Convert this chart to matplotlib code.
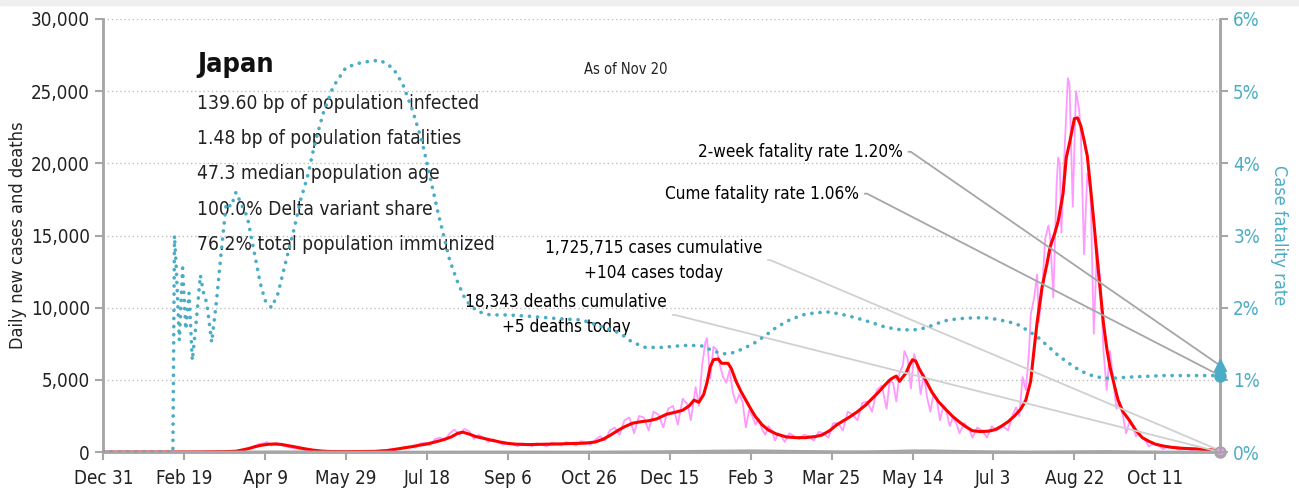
import matplotlib
matplotlib.use("Agg")
import matplotlib.pyplot as plt
from matplotlib import font_manager
from matplotlib.patches import Rectangle
from matplotlib.ticker import FuncFormatter, MultipleLocator

# the original uses a condensed face; take one if the system has it
condensed = [f.name for f in font_manager.fontManager.ttflist
             if "condensed" in str(f.stretch) and f.name in
             ("DejaVu Sans", "Noto Sans", "Roboto", "Open Sans", "Liberation Sans Narrow")]
if condensed:
    plt.rcParams['font.family'] = [condensed[0], 'DejaVu Sans']
    plt.rcParams['font.stretch'] = 'condensed'
else:
    plt.rcParams['font.family'] = ['Liberation Sans', 'DejaVu Sans']

# x axis: days since Dec 31, 2019 (day 690 = Nov 20, 2021)
tick_days = list(range(0, 651, 50))
tick_labels = ["Dec 31", "Feb 19", "Apr 9", "May 29", "Jul 18", "Sep 6", "Oct 26",
               "Dec 15", "Feb 3", "Mar 25", "May 14", "Jul 3", "Aug 22", "Oct 11"]
last_day = 690

# daily new cases (raw)
raw_days = [0, 40, 55, 65, 75, 80, 84, 87, 90, 93, 96, 99, 101, 104, 107, 110, 113, 116, 119, 122,
            125, 128, 131, 135, 140, 145, 150, 155, 160, 165, 170, 174, 178, 181, 184, 187, 190, 193,
            196, 199, 202, 205, 208, 211, 214, 217, 220, 223, 226, 229, 232, 235, 238, 241, 244, 247,
            250, 253, 256, 259, 262, 265, 268, 271, 274, 277, 280, 283, 286, 289, 292, 295, 298, 301,
            304, 307, 310, 313, 316, 319, 322, 325, 328, 331, 334, 337, 340, 343, 346, 349, 352, 355,
            358, 361, 363, 366, 368, 370, 372, 373, 375, 377, 379, 381, 383, 385, 387, 389, 391, 393,
            395, 397, 399, 401, 403, 405, 407, 409, 411, 413, 415, 417, 419, 421, 424, 427, 430, 433,
            436, 439, 442, 445, 448, 451, 454, 457, 460, 463, 466, 469, 472, 475, 478, 481, 484, 486,
            488, 490, 492, 494, 495, 497, 499, 501, 503, 505, 507, 509, 511, 513, 515, 517, 519, 521,
            523, 525, 527, 529, 532, 535, 537, 540, 543, 546, 549, 552, 556, 559, 562, 564, 566, 568,
            570, 572, 573, 575, 577, 578, 580, 582, 584, 585, 587, 589, 590, 591, 592, 594, 596, 597,
            599, 601, 603, 604, 606, 608, 610, 612, 614, 616, 618, 620, 622, 624, 626, 628, 630, 632,
            634, 636, 638, 640, 642, 644, 646, 649, 652, 655, 658, 662, 665, 669, 672, 676, 679, 683,
            686, 690]
raw_cases = [0, 0, 10, 30, 40, 60, 90, 180, 250, 400, 550, 600, 700, 450, 650, 480, 400, 300, 250, 200,
             130, 90, 60, 50, 30, 40, 30, 50, 40, 60, 100, 130, 200, 250, 200, 350, 400, 300,
             600, 650, 500, 900, 1000, 800, 1300, 1550, 1200, 1600, 1450, 900, 1200, 1000, 700, 900, 700, 500,
             650, 550, 400, 600, 550, 400, 600, 500, 400, 650, 600, 450, 700, 600, 450, 750, 700, 500,
             850, 1100, 800, 1500, 1700, 1200, 2200, 2400, 1300, 2500, 2400, 1500, 2800, 2600, 1700, 3000, 3200, 1900,
             3700, 3300, 2200, 4500, 3200, 6000, 7600, 7900, 5100, 7300, 7100, 6000, 5200, 4800, 5700, 4100, 3400, 4000,
             3500, 1700, 2900, 2500, 1900, 2300, 1600, 1200, 1800, 1500, 800, 1300, 1100, 700, 1300, 1100, 900, 1200,
             1100, 800, 1400, 1300, 1000, 2000, 2000, 1500, 2800, 2600, 2200, 3400, 3500, 2800, 4300, 4600, 3000, 5000,
             4800, 3500, 5500, 6000, 7000, 6500, 4400, 6800, 6000, 4000, 5400, 3800, 2800, 4000, 3600, 2200, 3200, 2800,
             1800, 2400, 2000, 1300, 2000, 1600, 1000, 1700, 1500, 1000, 1800, 1500, 1800, 1500, 2600, 3100, 2500, 5200,
             4300, 7000, 9500, 10600, 12300, 9000, 11000, 14800, 15700, 15000, 10700, 18500, 20400, 20000, 15200, 21000, 25900, 25500,
             17000, 25000, 23700, 22000, 13700, 19300, 18000, 8200, 14200, 12000, 7000, 4300, 7000, 5000, 3000, 3500, 2500, 1300,
             2100, 1800, 1100, 1300, 950, 800, 400, 600, 450, 200, 400, 300, 150, 250, 120, 200, 90, 160,
             130, 104]

# 7-day average of new cases
avg_days = [0, 60, 75, 82, 86, 90, 94, 98, 102, 106, 110, 114, 118, 122, 126, 130, 135, 140, 150, 160,
            168, 175, 180, 185, 190, 195, 200, 205, 210, 215, 219, 222, 226, 230, 235, 240, 245, 250, 255,
            262, 271, 280, 290, 298, 304, 309, 313, 318, 322, 327, 332, 337, 342, 348, 353, 358, 362, 365,
            368, 371, 373, 375, 377, 380, 382, 386, 388, 391, 394, 397, 400, 403, 407, 411, 416, 422, 428,
            434, 440, 444, 449, 453, 457, 461, 466, 471, 475, 479, 483, 486, 488, 490, 492, 494, 496, 498,
            500, 502, 504, 508, 512, 516, 521, 525, 529, 533, 537, 542, 547, 551, 555, 559, 563, 567, 570,
            573, 575, 577, 580, 583, 585, 588, 590, 593, 595, 597, 600, 602, 604, 606, 608, 610, 612, 614,
            616, 618, 620, 622, 625, 627, 630, 634, 638, 642, 646, 650, 655, 660, 667, 675, 682, 690]
avg_cases = [0, 10, 30, 60, 150, 250, 380, 480, 540, 560, 530, 450, 370, 280, 200, 130, 70, 40, 30, 40,
             50, 100, 180, 280, 360, 470, 560, 700, 850, 1050, 1300, 1380, 1250, 1080, 950, 820, 700, 600, 550,
             520, 540, 560, 590, 620, 700, 900, 1150, 1500, 1750, 2000, 2100, 2170, 2300, 2620, 2750, 2900, 3200, 3600,
             3450, 4000, 4800, 5900, 6400, 6450, 6150, 6150, 5800, 4900, 4200, 3600, 3000, 2450, 1900, 1520, 1250, 1050, 1000,
             1000, 1080, 1180, 1500, 1870, 2150, 2420, 2800, 3250, 3700, 4150, 4650, 5000, 5150, 5260, 4900, 5200, 5480, 6000,
             6400, 6300, 5800, 5000, 4150, 3500, 2900, 2450, 2080, 1750, 1480, 1420, 1450, 1550, 1800, 2100, 2500, 3000, 3600,
             4900, 7000, 9000, 11400, 13000, 14200, 15200, 16000, 17900, 20400, 21400, 23100, 23150, 22600, 21600, 20500, 18300, 16000, 13500,
             11200, 8900, 7200, 5900, 4500, 3600, 2800, 2200, 1500, 1000, 750, 550, 420, 330, 260, 220, 170, 130]

# daily deaths
death_days = [0, 60, 100, 110, 130, 150, 200, 230, 260, 300, 320, 340, 360, 380, 400, 410, 430, 450,
              470, 490, 500, 510, 530, 550, 570, 600, 620, 640, 660, 690]
deaths = [0, 2, 15, 20, 10, 3, 3, 10, 8, 5, 15, 30, 45, 70, 90, 80, 50, 30,
          25, 60, 90, 90, 50, 25, 10, 30, 45, 20, 5, 5]

# case fatality rate, %
cfr_days = [0, 43, 44, 45, 47, 49, 51, 53, 55, 57, 60, 62, 64, 67, 70, 73, 76, 79, 82, 85, 89, 93, 97,
            100, 104, 108, 113, 118, 122, 126, 131, 136, 142, 150, 160, 171, 179, 185, 191, 197, 202, 207,
            210, 214, 219, 224, 231, 239, 250, 264, 280, 296, 310, 319, 327, 335, 345, 355, 362, 370, 377,
            383, 390, 397, 403, 410, 416, 424, 432, 440, 448, 456, 465, 474, 482, 490, 500, 508, 515, 522,
            530, 538, 545, 552, 558, 564, 570, 577, 583, 590, 596, 602, 608, 614, 618, 622, 628, 635, 645,
            655, 665, 675, 690]
cfr = [0, 0, 3.0, 2.6, 1.55, 2.55, 1.7, 2.2, 1.27, 1.7, 2.45, 2.2, 2.06, 1.52, 2.1, 2.8, 3.45, 3.4, 3.6, 3.45, 3.26, 2.8, 2.34,
       2.1, 2.0, 2.2, 2.66, 3.1, 3.5, 3.8, 4.3, 4.7, 5.06, 5.33, 5.4, 5.43, 5.32, 5.1, 4.74, 4.3, 3.8, 3.3,
       3.03, 2.66, 2.35, 2.1, 1.95, 1.9, 1.9, 1.88, 1.85, 1.83, 1.72, 1.65, 1.52, 1.45, 1.45, 1.47, 1.48, 1.47, 1.4,
       1.36, 1.38, 1.45, 1.52, 1.63, 1.73, 1.83, 1.9, 1.93, 1.94, 1.91, 1.86, 1.8, 1.74, 1.7, 1.69, 1.72, 1.78, 1.83,
       1.85, 1.86, 1.86, 1.84, 1.81, 1.78, 1.7, 1.6, 1.48, 1.34, 1.24, 1.15, 1.08, 1.04, 1.03, 1.02, 1.03, 1.04, 1.05,
       1.06, 1.06, 1.06, 1.06]

two_week_cfr = 1.20
cume_cfr = 1.06
cases_today = 104
deaths_today = 5

country = "Japan"
stats = ["139.60 bp of population infected",
         "1.48 bp of population fatalities",
         "47.3 median population age",
         "100.0% Delta variant share",
         "76.2% total population immunized"]

teal = "#4BACC6"
axis_grey = "#A6A6A6"

fig = plt.figure(figsize=(12.99, 4.93), dpi=100)
fig.patches.append(Rectangle((0, 0.99), 1, 0.01, transform=fig.transFigure,
                             color="#EFEFEF", zorder=0))
ax = fig.add_axes([0.0795, 0.083, 0.8597, 0.8785])
ax2 = ax.twinx()

ax.plot(raw_days, raw_cases, color="#FF99FF", lw=1.3, zorder=2)
ax.plot(avg_days, avg_cases, color="#FF0000", lw=2.2, zorder=3)
ax.plot(death_days, deaths, color=axis_grey, lw=2, zorder=3)
ax.plot([last_day], [0], "o", color=axis_grey, ms=8, zorder=5, clip_on=False)
ax.plot([last_day], [cases_today], "o", color="#FF99FF", ms=4, zorder=5, clip_on=False)

ax2.plot(cfr_days, cfr, color=teal, lw=2.6, dashes=(0.05, 2.2), dash_capstyle="round", zorder=3)
ax2.plot([last_day], [two_week_cfr], "^", color=teal, ms=9, clip_on=False, zorder=5)
ax2.plot([last_day], [cume_cfr], "o", color=teal, ms=8, clip_on=False, zorder=5)

ax.set_xlim(0, last_day)
ax.set_ylim(0, 30000)
ax2.set_ylim(0, 6)
ax.set_xticks(tick_days)
ax.set_xticklabels(tick_labels)
ax.yaxis.set_major_locator(MultipleLocator(5000))
ax.yaxis.set_major_formatter(FuncFormatter(lambda v, p: "{:,.0f}".format(v)))
ax2.yaxis.set_major_locator(MultipleLocator(1))
ax2.yaxis.set_major_formatter(FuncFormatter(lambda v, p: "{:.0f}%".format(v)))

for a in (ax, ax2):
    a.spines["top"].set_visible(False)
    for s in ("left", "right", "bottom"):
        a.spines[s].set_color(axis_grey)
        a.spines[s].set_linewidth(1.8)
ax.tick_params(axis="both", colors=axis_grey, width=1.5, length=6, labelsize=13.5, labelcolor="#222222")
ax.tick_params(axis="x", pad=6)
ax2.tick_params(axis="y", colors=axis_grey, width=1.5, length=6, labelsize=13.5, labelcolor=teal)

for yv in range(5000, 30001, 5000):
    ax.axhline(yv, color="#BFBFBF", lw=1, ls=(0, (1, 2)), zorder=1)

ax.set_ylabel("Daily new cases and deaths", fontsize=13, color="#222222")
ax.yaxis.set_label_coords(-0.068, 0.5)
ax2.set_ylabel("Case fatality rate", fontsize=13, color=teal, rotation=270, labelpad=20)

ax.text(58, 26800, country, fontsize=19.5, fontweight="bold", va="center", color="#111111")
for i, line in enumerate(stats):
    ax.text(58, 24150 - i * 2440, line, fontsize=13.8, va="center", color="#222222")
ax.text(297, 26500, "As of Nov 20", fontsize=10.5, va="center", color="#222222")

note_fs = 12.3
arm = "arc,angleA=0,armA=8,angleB=0,armB=0,rad=0"
ax2.annotate("2-week fatality rate {:.2f}%".format(two_week_cfr), xy=(last_day, two_week_cfr),
             xytext=(494, 4.16), textcoords="data", ha="right", va="center", fontsize=note_fs,
             arrowprops=dict(arrowstyle="-", color="#A6A6A6", lw=1.3, shrinkA=2, shrinkB=0,
                             relpos=(1, 0.5), connectionstyle=arm))
ax2.annotate("Cume fatality rate {:.2f}%".format(cume_cfr), xy=(last_day, cume_cfr),
             xytext=(467, 3.58), textcoords="data", ha="right", va="center", fontsize=note_fs,
             arrowprops=dict(arrowstyle="-", color="#A6A6A6", lw=1.3, shrinkA=2, shrinkB=0,
                             relpos=(1, 0.5), connectionstyle=arm))
ax.annotate("1,725,715 cases cumulative\n+{} cases today".format(cases_today), xy=(last_day, cases_today),
            xytext=(340, 13300), textcoords="data", ha="center", va="center", fontsize=note_fs,
            multialignment="center", linespacing=1.5,
            arrowprops=dict(arrowstyle="-", color="#D0D0D0", lw=1.3, shrinkA=2, shrinkB=0,
                            relpos=(1, 0.5), connectionstyle=arm))
ax.annotate("18,343 deaths cumulative\n+{} deaths today".format(deaths_today), xy=(last_day, deaths_today),
            xytext=(286, 9500), textcoords="data", ha="center", va="center", fontsize=note_fs,
            multialignment="center", linespacing=1.5,
            arrowprops=dict(arrowstyle="-", color="#D0D0D0", lw=1.3, shrinkA=2, shrinkB=0,
                            relpos=(1, 0.5), connectionstyle=arm))

fig.savefig("out.png", dpi=100)
